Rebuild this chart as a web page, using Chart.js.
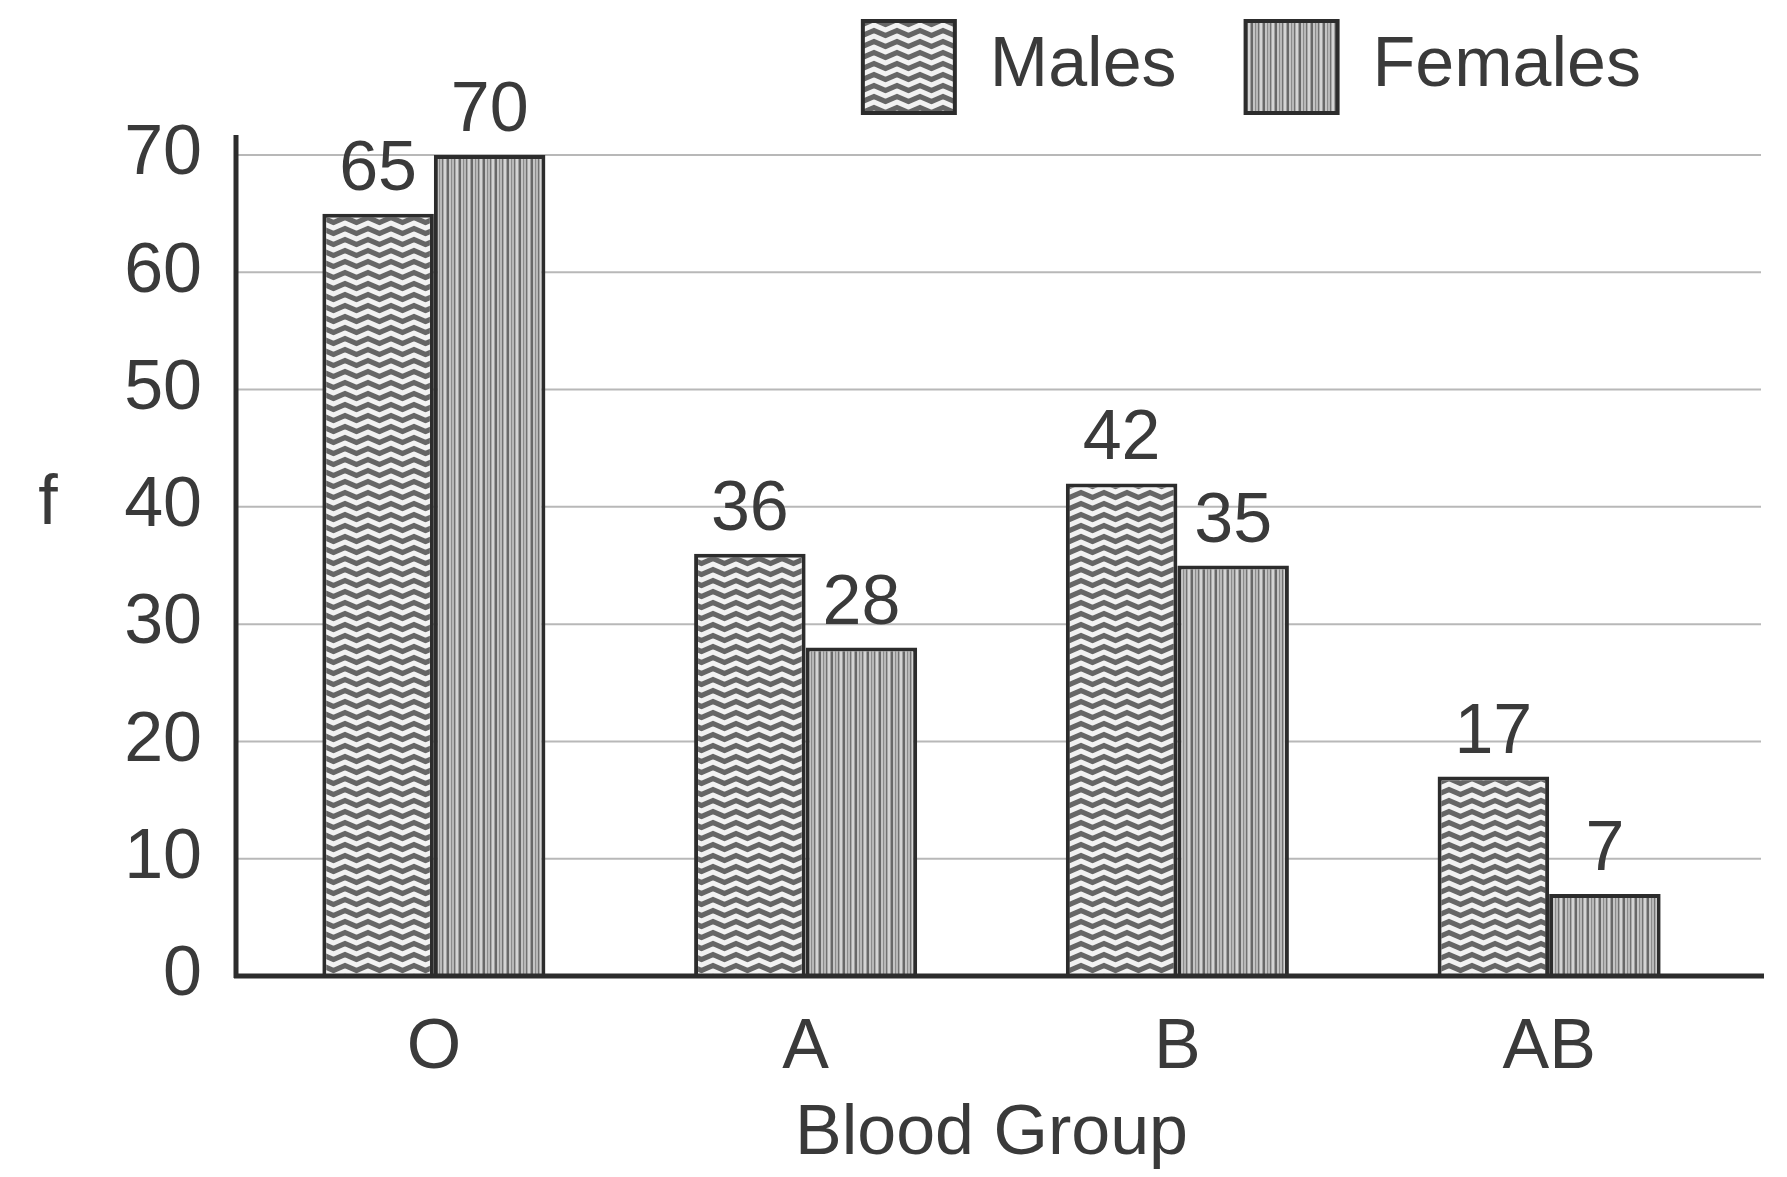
<!DOCTYPE html>
<html>
<head>
<meta charset="utf-8">
<title>Blood Group</title>
<script src="https://cdn.jsdelivr.net/npm/chart.js@4.4.1/dist/chart.umd.min.js"></script>
<style>
  html, body { margin: 0; padding: 0; background: #ffffff; }
  #wrap { width: 1787px; height: 1177px; }
</style>
</head>
<body>
<div id="wrap"><canvas id="chart" width="1787" height="1177"></canvas></div>
<script>
/* ---------- data ---------- */
const bloodGroups = ["O", "A", "B", "AB"];
const males = [65, 36, 42, 17];
const females = [70, 28, 35, 7];
const seriesNames = ["Males", "Females"];
const yMin = 0;
const yMax = 70;
const yStep = 10;
const xTitle = "Blood Group";
const yTitle = "f";

/* ---------- look ---------- */
const FONT = "'Liberation Sans', Arial, Helvetica, sans-serif";
const TEXT = "#3a3a3a";
const INK = "#2c2c2c";
const GRID = "#b8b8b8";

Chart.defaults.font.family = FONT;
Chart.defaults.font.size = 70;
Chart.defaults.color = TEXT;

// wavy (zigzag) fill used for males
function zigzagPattern() {
  const c = document.createElement("canvas");
  c.width = 23;
  c.height = 11;
  const g = c.getContext("2d");
  g.fillStyle = "#666666";
  g.fillRect(0, 0, c.width, c.height);
  g.strokeStyle = "#f2f2f2";
  g.lineWidth = 5;
  g.lineJoin = "round";
  for (const dy of [-11, 0, 11]) {
    g.beginPath();
    g.moveTo(-11.5, 8 + dy);
    g.lineTo(0, 3 + dy);
    g.lineTo(11.5, 8 + dy);
    g.lineTo(23, 3 + dy);
    g.lineTo(34.5, 8 + dy);
    g.stroke();
  }
  return g.createPattern(c, "repeat");
}

// vertical stripes used for females
function stripePattern() {
  const shades = ["#d4d4d4", "#d4d4d4", "#a0a0a0", "#686868", "#686868",
                  "#c4c4c4", "#c4c4c4", "#8c8c8c", "#b8b8b8", "#b8b8b8",
                  "#727272", "#aaaaaa"];
  const c = document.createElement("canvas");
  c.width = shades.length;
  c.height = 4;
  const g = c.getContext("2d");
  shades.forEach((s, i) => {
    g.fillStyle = s;
    g.fillRect(i, 0, 1, c.height);
  });
  return g.createPattern(c, "repeat");
}

/* ---------- plugins ---------- */
// legend placement: box top near the top edge, row pulled a bit left
const legendPlacement = {
  id: "legendPlacement",
  beforeInit(chart) {
    const legend = chart.legend;
    const fit = legend.fit;
    legend.fit = function () {
      fit.call(this);
      this.height = 203;
      if (this.lineWidths) this.lineWidths[0] += 25;
    };
  }
};

// grid lines and the two axis lines, a little longer than the plot area
const axesLines = {
  id: "axesLines",
  beforeDatasetsDraw(chart) {
    const { ctx, chartArea, scales } = chart;
    const y = scales.y;
    ctx.save();
    ctx.strokeStyle = GRID;
    ctx.lineWidth = 2;
    y.ticks.forEach(t => {
      if (t.value === yMin) return;
      const py = y.getPixelForValue(t.value);
      ctx.beginPath();
      ctx.moveTo(chartArea.left - 12, py);
      ctx.lineTo(chartArea.right + 26, py);
      ctx.stroke();
    });
    ctx.restore();
  },
  afterDatasetsDraw(chart) {
    const { ctx, chartArea, scales } = chart;
    const y = scales.y;
    const y0 = y.getPixelForValue(yMin);
    const yTop = y.getPixelForValue(yMax);
    ctx.save();
    ctx.strokeStyle = INK;
    ctx.lineWidth = 5;
    ctx.beginPath();
    ctx.moveTo(chartArea.left - 12, yTop - 20);
    ctx.lineTo(chartArea.left - 12, y0 + 2);
    ctx.moveTo(chartArea.left - 14, y0);
    ctx.lineTo(chartArea.right + 29, y0);
    ctx.stroke();

    // "f" beside the axis, level with 40
    ctx.fillStyle = TEXT;
    ctx.font = "70px " + FONT;
    ctx.textAlign = "center";
    ctx.textBaseline = "middle";
    ctx.fillText(yTitle, 48, y.getPixelForValue(40) - 2);
    ctx.restore();
  }
};

// value above each bar
const valueLabels = {
  id: "valueLabels",
  afterDatasetsDraw(chart) {
    const { ctx } = chart;
    ctx.save();
    ctx.fillStyle = TEXT;
    ctx.font = "70px " + FONT;
    ctx.textAlign = "center";
    ctx.textBaseline = "alphabetic";
    chart.data.datasets.forEach((ds, i) => {
      chart.getDatasetMeta(i).data.forEach((bar, j) => {
        ctx.fillText(String(ds.data[j]), bar.x, bar.y - 24);
      });
    });
    ctx.restore();
  }
};

/* ---------- chart ---------- */
const ctx = document.getElementById("chart").getContext("2d");

new Chart(ctx, {
  type: "bar",
  data: {
    labels: bloodGroups,
    datasets: [
      {
        label: seriesNames[0],
        data: males,
        backgroundColor: zigzagPattern(),
        borderColor: INK,
        borderWidth: 4,
        categoryPercentage: 0.6,
        barPercentage: 1.0
      },
      {
        label: seriesNames[1],
        data: females,
        backgroundColor: stripePattern(),
        borderColor: INK,
        borderWidth: 4,
        categoryPercentage: 0.6,
        barPercentage: 1.0
      }
    ]
  },
  options: {
    responsive: false,
    animation: false,
    layout: { padding: { top: -48, left: 100, right: 52, bottom: 0 } },
    plugins: {
      tooltip: { enabled: false },
      legend: {
        position: "top",
        align: "end",
        labels: {
          boxWidth: 92,
          boxHeight: 92,
          padding: 69,
          color: TEXT,
          font: { size: 70 }
        }
      }
    },
    scales: {
      x: {
        grid: { display: false, drawTicks: false },
        border: { display: false },
        ticks: { padding: 31, color: TEXT, font: { size: 70 } },
        title: {
          display: true,
          text: xTitle,
          color: TEXT,
          font: { size: 70 },
          padding: { top: -29, bottom: 0 }
        }
      },
      y: {
        min: yMin,
        max: yMax,
        grid: { display: false, drawTicks: false },
        border: { display: false },
        ticks: { stepSize: yStep, padding: 46, color: TEXT, font: { size: 70 } },
        afterFit(scale) { scale.width = 148; }
      }
    }
  },
  plugins: [legendPlacement, axesLines, valueLabels]
});
</script>
</body>
</html>
